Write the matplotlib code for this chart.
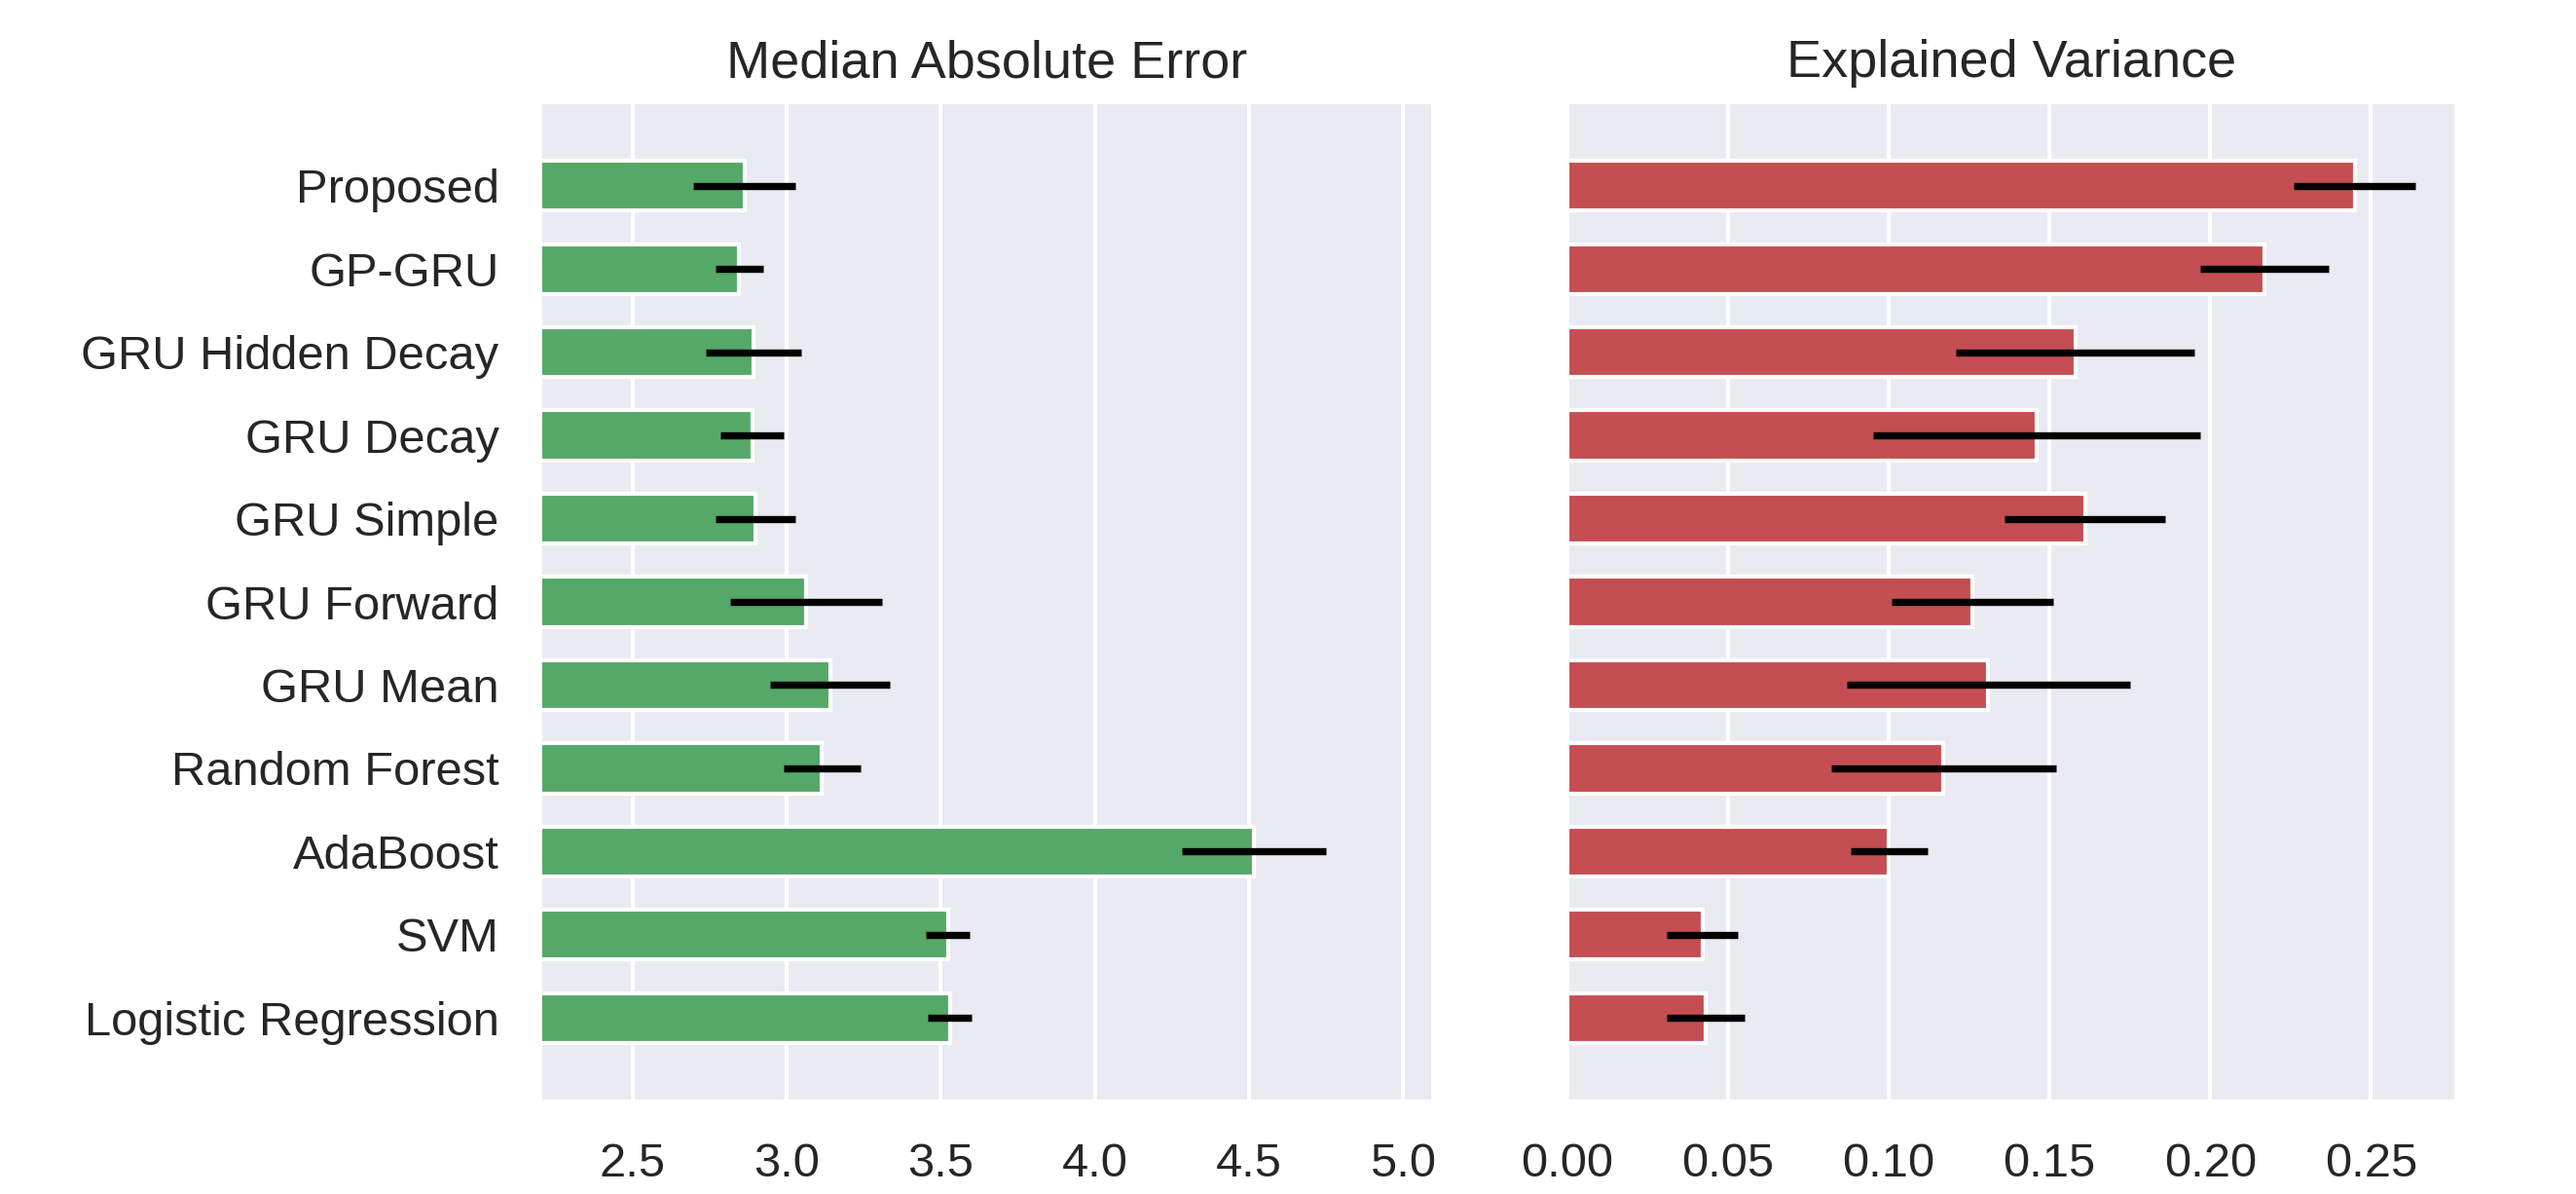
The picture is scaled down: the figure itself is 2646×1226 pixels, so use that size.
import numpy as np
import matplotlib.pyplot as plt

# %%
# values
models = ["Proposed", "GP-GRU", "GRU Hidden Decay", "GRU Decay", "GRU Simple",
          "GRU Forward", "GRU Mean", "Random Forest", "AdaBoost", "SVM",
          "Logistic Regression"]

mae = [2.862, 2.846, 2.892, 2.888, 2.898, 3.063, 3.140, 3.114, 4.517, 3.523, 3.529]
mae_err = [0.167, 0.078, 0.155, 0.103, 0.129, 0.246, 0.195, 0.124, 0.233, 0.072, 0.071]

ev = [0.245, 0.217, 0.158, 0.146, 0.161, 0.126, 0.131, 0.117, 0.100, 0.042, 0.043]
ev_err = [0.019, 0.020, 0.037, 0.051, 0.025, 0.025, 0.044, 0.035, 0.012, 0.011, 0.012]

# %%
plt.rcParams["font.family"] = ["Liberation Sans", "DejaVu Sans"]
plt.rcParams["text.color"] = "#262626"
plt.rcParams["xtick.color"] = "#262626"
plt.rcParams["ytick.color"] = "#262626"

fig = plt.figure(figsize=(13.23, 6.13), dpi=200)
ax1 = fig.add_axes([0.2105, 0.0791, 0.3451, 0.8336])
ax2 = fig.add_axes([0.6085, 0.0791, 0.3443, 0.8336])

y = np.arange(len(models))

panels = [
    (ax1, mae, mae_err, "#55a868", "Median Absolute Error", (2.206, 5.092)),
    (ax2, ev, ev_err, "#c44e52", "Explained Variance", (0.0, 0.276)),
]

for ax, vals, errs, color, title, xlim in panels:
    ax.set_facecolor("#eaeaf2")
    ax.set_axisbelow(True)
    ax.grid(axis="x", color="white", linewidth=1.45)
    ax.barh(y, vals, height=0.6, color=color, edgecolor="white", linewidth=1.5,
            xerr=errs, error_kw=dict(ecolor="black", elinewidth=2.65, capsize=0))
    for s in ax.spines.values():
        s.set_visible(False)
    ax.set_xlim(*xlim)
    ax.set_ylim(len(models) - 1 + 0.98, -0.98)
    ax.set_title(title, fontsize=19.5, pad=10)
    ax.tick_params(length=0, labelsize=17.6, pad=16)

ax1.set_xticks([2.5, 3.0, 3.5, 4.0, 4.5, 5.0])
ax1.set_yticks(y)
ax1.set_yticklabels(models)

ax2.set_xticks([0.0, 0.05, 0.10, 0.15, 0.20, 0.25])
ax2.set_xticklabels(["0.00", "0.05", "0.10", "0.15", "0.20", "0.25"])
ax2.set_yticks([])

fig.savefig("out.png", dpi=200)
